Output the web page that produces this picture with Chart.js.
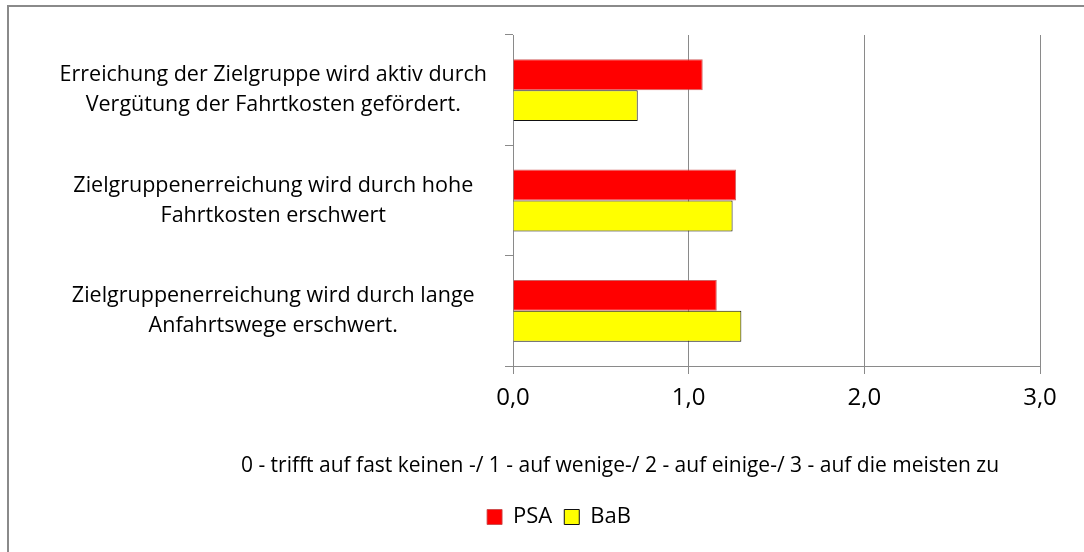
<html lang="de">
<head>
    <meta charset="UTF-8">
    <title>Zielgruppenerreichung</title>
    <script src="https://cdn.jsdelivr.net/npm/chart.js@4.4.1/dist/chart.umd.min.js"></script>
    <style>
        body { margin: 0; overflow: hidden; background: #fff; }
        #rahmen { position: absolute; left: 7px; top: 5px; width: 1200px; height: 600px; border: 2px solid #8a8a8a; }
        #wrap { position: absolute; left: 0; top: 0; width: 1118px; height: 552px; }
    </style>
</head>
<body>
    <div id="rahmen"></div>
    <div id="wrap"><canvas id="myChart"></canvas></div>
<script>
    // Daten
    var kategorien = [
        ['Erreichung der Zielgruppe wird aktiv durch', 'Vergütung der Fahrtkosten gefördert.'],
        ['Zielgruppenerreichung wird durch hohe', 'Fahrtkosten erschwert'],
        ['Zielgruppenerreichung wird durch lange', 'Anfahrtswege erschwert.']
    ];
    var wertePSA = [1.08, 1.27, 1.16];
    var werteBaB = [0.71, 1.25, 1.30];
    var achsenText = '0 - trifft auf fast keinen -/ 1 - auf wenige-/ 2 - auf einige-/ 3 - auf die meisten zu';

    var schrift = "'Open Sans', sans-serif";

    // Beschriftung unter der Achse
    var achsenTitel = {
        id: 'achsenTitel',
        afterDraw: function (chart) {
            var c = chart.ctx;
            c.save();
            c.font = '21px ' + schrift;
            c.fillStyle = '#000';
            c.textAlign = 'center';
            c.textBaseline = 'middle';
            c.fillText(achsenText, 620, 466);
            c.restore();
        }
    };

    var ctx = document.getElementById('myChart').getContext('2d');
    var myChart = new Chart(ctx, {
        type: 'bar',
        data: {
            labels: kategorien,
            datasets: [
                { label: 'PSA', data: wertePSA, backgroundColor: '#ff0000', borderColor: 'rgba(200,70,70,0.85)', borderWidth: 1 },
                { label: 'BaB', data: werteBaB, backgroundColor: '#ffff00', borderColor: '#111', borderWidth: 1 }
            ]
        },
        options: {
            indexAxis: 'y',
            responsive: true,
            maintainAspectRatio: false,
            animation: false,
            layout: { padding: { top: 35, right: 0, bottom: 14, left: 0 } },
            datasets: { bar: { categoryPercentage: 0.56, barPercentage: 1 } },
            scales: {
                x: {
                    min: 0, max: 3,
                    ticks: {
                        stepSize: 1,
                        color: '#000',
                        font: { family: schrift, size: 24 },
                        padding: 10,
                        callback: function (v) { return v.toFixed(1).replace('.', ','); }
                    },
                    grid: { color: '#8a8a8a', lineWidth: 1, tickLength: 8, tickColor: '#8a8a8a' },
                    border: { color: '#8a8a8a' },
                    afterFit: function (s) { s.height = 128; }
                },
                y: {
                    ticks: {
                        color: '#000',
                        font: { family: schrift, size: 21.5, lineHeight: 1.4 },
                        crossAlign: 'center',
                        padding: 18
                    },
                    grid: { drawOnChartArea: false, offset: true, tickLength: 8, color: '#8a8a8a' },
                    border: { color: '#8a8a8a' },
                    afterFit: function (s) {
                        s.width = 513;
                        s.paddingTop = 0;
                        s.paddingBottom = 0;
                    }
                },
                // leerer Rand rechts
                rand: {
                    type: 'category',
                    position: 'right',
                    grid: { display: false },
                    ticks: { display: false },
                    border: { display: false },
                    afterFit: function (s) { s.width = 78; }
                }
            },
            plugins: {
                legend: {
                    position: 'bottom',
                    labels: {
                        color: '#000',
                        font: { family: schrift, size: 22 },
                        boxWidth: 15, boxHeight: 15,
                        padding: 12
                    }
                },
                tooltip: { enabled: false }
            }
        },
        plugins: [achsenTitel]
    });
</script>
</body>
</html>
